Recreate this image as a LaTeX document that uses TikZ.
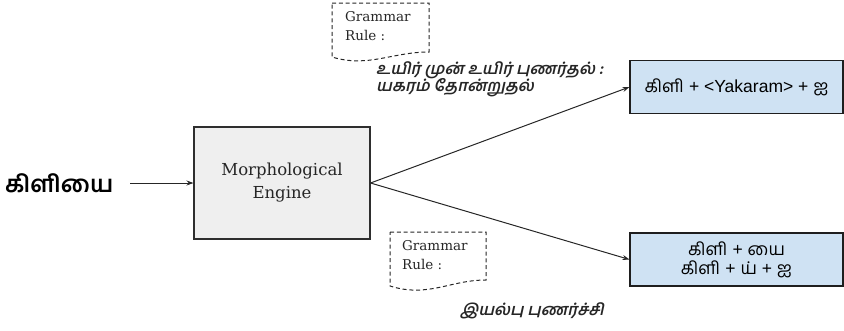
\documentclass[tikz,border=0pt]{standalone}
\usepackage{fontspec}
\setmainfont{Liberation Sans}
\newfontfamily\tamil[Script=Tamil]{Hind Madurai}
\newfontfamily\tamilslant[Script=Tamil,FakeSlant=0.22]{Hind Madurai}
\newfontfamily\serifface{DejaVu Serif}
\usetikzlibrary{arrows.meta}
\definecolor{engfill}{HTML}{EFEFEF}
\definecolor{engline}{HTML}{2E2E2E}
\definecolor{outfill}{HTML}{CFE2F3}
\definecolor{outline}{HTML}{1E1E1E}
\definecolor{ink}{HTML}{262626}
\tikzset{
  engine/.style={draw=engline, fill=engfill, line width=1.1pt, minimum width=176pt, minimum height=112pt, inner sep=0pt},
  outbox/.style={draw=outline, fill=outfill, line width=1.1pt, minimum width=213pt, minimum height=53pt, inner sep=0pt, align=center},
  flow/.style={draw=ink, line width=1pt, -{Stealth[length=7pt,width=5pt]}},
  rulebox/.style={draw=ink, line width=1pt, dash pattern=on 4pt off 2.8pt},
  ruletext/.style={font=\serifface\fontsize{13.5}{19}\selectfont, text=ink, align=left, anchor=north west, inner sep=0pt},
  tamilnote/.style={font=\tamilslant\bfseries\fontsize{16}{16}\selectfont, text=ink, align=left, inner sep=0pt}
}
\begin{document}
\begin{tikzpicture}[x=1pt,y=-1pt]
\useasboundingbox (0,0) rectangle (844,330);

% input word
\node[font=\tamil\bfseries\fontsize{23.5}{24}\selectfont, anchor=west, inner sep=0pt] (word) at (5,183) {கிளியை};

% engine
\node[engine] (engine) at (282,183) {};
\node[font=\serifface\fontsize{16.5}{23}\selectfont, text=ink, align=center] (enginelabel) at (engine.center) {Morphological\\Engine};

% results
\node[outbox, font=\fontsize{17.5}{17.5}\selectfont] (top) at (736.5,87) {{\tamil கிளி} + <Yakaram> + {\tamil ஐ}};
\node[outbox, font=\fontsize{17.5}{19}\selectfont] (bottom) at (736.5,259.5) {{\tamil கிளி} + {\tamil யை}\\{\tamil கிளி} + {\tamil ய்} + {\tamil ஐ}};

% connectors
\coordinate (inleft) at (130,183);
\draw[flow] (inleft) -- (engine.west);
\draw[flow] (engine.east) -- (top.west);
\draw[flow] (engine.east) -- (bottom.west);

% grammar rule notes
\draw[rulebox] (332,3) -- (429,3) -- (429,52) .. controls (392,52) and (368,68) .. (332,57) -- cycle;
\node[ruletext] (ruleA) at (345,11) {Grammar\\Rule :};
\draw[rulebox] (390,232) -- (486,232) -- (486,280) .. controls (450,280) and (428,298) .. (390,286) -- cycle;
\node[ruletext] (ruleB) at (402,240) {Grammar\\Rule :};

\node[tamilnote, anchor=west] (noteA) at (376,79) {உயிர் முன் உயிர் புணர்தல் :\\[-1pt]யகரம் தோன்றுதல்};
\node[tamilnote, anchor=west] (noteB) at (460,311) {இயல்பு புணர்ச்சி};
\end{tikzpicture}
\end{document}
